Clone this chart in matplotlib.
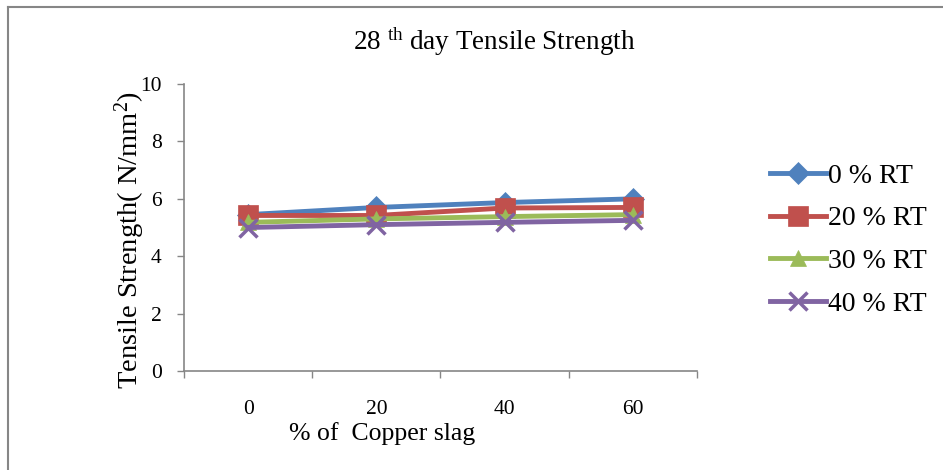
import matplotlib
matplotlib.use("Agg")
import matplotlib.pyplot as plt
from matplotlib.lines import Line2D

plt.rcParams['font.family'] = ['Liberation Serif', 'DejaVu Serif']
plt.rcParams['mathtext.fontset'] = 'custom'
plt.rcParams['mathtext.rm'] = 'Liberation Serif'
plt.rcParams['mathtext.it'] = 'Liberation Serif:italic'

categories = ['0', '20', '40', '60']
series_names = ['0 % RT', '20 % RT', '30 % RT', '40 % RT']
rt0 = [5.45, 5.70, 5.87, 6.00]
rt20 = [5.42, 5.42, 5.68, 5.70]
rt30 = [5.18, 5.30, 5.38, 5.45]
rt40 = [5.00, 5.10, 5.18, 5.25]

colors = ['#4F81BD', '#C0504D', '#9BBB59', '#8064A2']
markers = ['D', 's', '^', 'x']
msizes = [11, 14, 12, 13]

fig = plt.figure(figsize=(9.43, 4.70), dpi=100)
ax = fig.add_axes([0.1951, 0.2106, 0.544, 0.6106])

x = list(range(len(categories)))
handles = []
for vals, name, c, mk, ms in zip([rt0, rt20, rt30, rt40], series_names, colors, markers, msizes):
    h, = ax.plot(x, vals, color=c, lw=3.5, marker=mk, markersize=ms,
                 markeredgewidth=2.5 if mk == 'x' else 0.5, markeredgecolor=c,
                 markerfacecolor=c, label=name, clip_on=False)
    handles.append(h)

ax.set_xlim(-0.5, len(categories) - 0.5)
ax.set_ylim(0, 10)
ax.set_yticks([0, 2, 4, 6, 8, 10])
ax.set_xticks(x)
ax.set_xticklabels(categories)
ax.set_xticks([i - 0.5 for i in range(len(categories) + 1)], minor=True)
ax.tick_params(axis='x', which='major', length=0, pad=21, labelsize=15.5)
ax.tick_params(axis='x', which='minor', length=5, width=1, color='#868686', direction='out')
ax.tick_params(axis='y', length=5, width=1, color='#868686', labelsize=15.5, pad=11)

for s in ['top', 'right']:
    ax.spines[s].set_visible(False)
for s in ['left', 'bottom']:
    ax.spines[s].set_color('#868686')
    ax.spines[s].set_linewidth(1.2)

ax.set_ylabel('Tensile Strength( N/mm$^2$)', fontsize=20.5)
ax.yaxis.set_label_coords(-0.072, 0.456)
fig.text(382 / 943, 1 - 434 / 470, '% of  Copper slag', fontsize=18.5, ha='center', va='center')
fig.text(494 / 943, 1 - 42 / 470, '28 $^{\\mathrm{th}}$ day Tensile Strength', fontsize=19.5,
         ha='center', va='center')

leg = fig.legend(handles=handles, loc='center left', bbox_to_anchor=(770 / 943, 1 - 240 / 470),
                 frameon=False, fontsize=20, handlelength=2.0, handletextpad=0.1,
                 labelspacing=0.62, borderaxespad=0, borderpad=0)

# outer chart frame (only left and top visible)
fig.add_artist(Line2D([8 / 943, 8 / 943], [0, 1 - 7 / 470], transform=fig.transFigure,
                      color='#868686', lw=1.5))
fig.add_artist(Line2D([8 / 943, 1], [1 - 7 / 470, 1 - 7 / 470], transform=fig.transFigure,
                      color='#868686', lw=1.5))

fig.savefig('out.png', dpi=100)
